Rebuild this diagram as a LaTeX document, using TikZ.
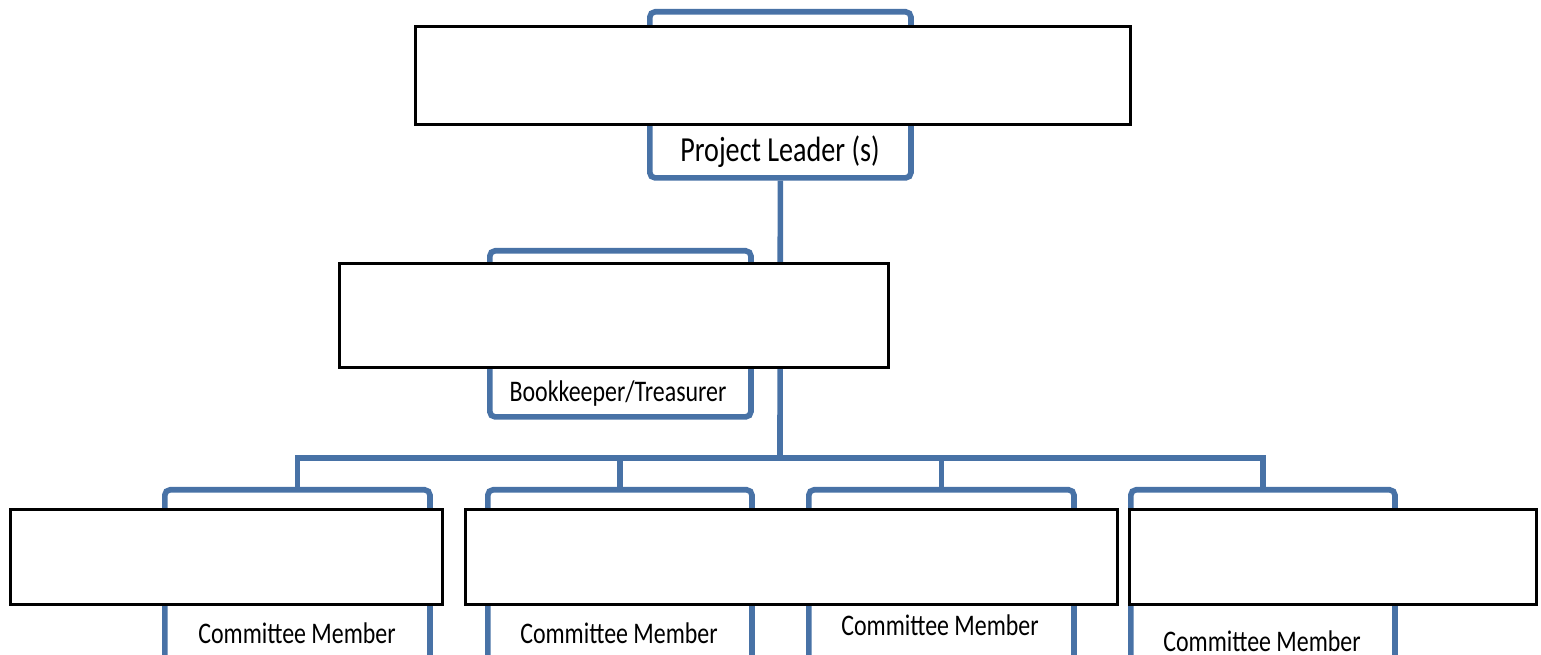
\documentclass[tikz,border=0pt]{standalone}
\usepackage{fontspec}
\newfontfamily\orgfont[FakeStretch=0.8]{Carlito}
\definecolor{orgblue}{RGB}{72,114,166}
\usepackage{tikz}
\usetikzlibrary{positioning}
\tikzset{
  role/.style={draw=orgblue, line width=1.6pt, rounded corners=1.5pt, fill=white,
               inner sep=0pt, anchor=north west},
  card/.style={draw=black, line width=0.8pt, fill=white, inner sep=0pt, anchor=north west},
  rolename/.style={font=\orgfont\fontsize{8.5}{10}\selectfont, inner sep=1pt},
  link/.style={draw=orgblue, line width=1.6pt},
}

\begin{document}
\begin{tikzpicture}[x=0.01cm, y=-0.01cm]
        \useasboundingbox (0,0) rectangle (1541,655);
        \clip (0,0) rectangle (1541,655);
        % blue role boxes
        \node[role, minimum width=2.61cm, minimum height=1.66cm] (pl) at (647,9)   {};
        \node[role, minimum width=2.61cm, minimum height=1.66cm] (bk) at (487,248) {};
        \node[role, minimum width=2.65cm, minimum height=2.0cm]  (c1) at (162,487) {};
        \node[role, minimum width=2.64cm, minimum height=2.0cm]  (c2) at (485,487) {};
        \node[role, minimum width=2.65cm, minimum height=2.0cm]  (c3) at (806,487) {};
        \node[role, minimum width=2.64cm, minimum height=2.0cm]  (c4) at (1128,487) {};
        \node[rolename] (tpl) at (780,152) {\fontsize{10}{12}\selectfont Project Leader (s)};
        \node[rolename] (tbk) at (618,394) {Bookkeeper/Treasurer};
        \node[rolename] (tc1) at (297,633) {Committee Member};
        \node[rolename] (tc2) at (619,633) {Committee Member};
        \node[rolename] (tc3) at (940,625) {Committee Member};
        \node[rolename] (tc4) at (1262,641) {Committee Member};
        % connectors
        \coordinate (hub) at (780,458);
        \draw[link] (pl.south) -- (hub);
        \draw[link] (c1.north) |- (hub) -| (c4.north);
        \draw[link] (c2.north) -- (c2.north |- hub);
        \draw[link] (c3.north) -- (c3.north |- hub);
        % white cards on top
        \node[card, minimum width=7.15cm, minimum height=0.98cm] (w0) at (414,25)  {};
        \node[card, minimum width=5.49cm, minimum height=1.04cm] (w1) at (338,262) {};
        \node[card, minimum width=4.32cm, minimum height=0.95cm] (w2) at (9,508)   {};
        \node[card, minimum width=6.52cm, minimum height=0.95cm] (w3) at (464,508) {};
        \node[card, minimum width=4.07cm, minimum height=0.95cm] (w4) at (1128,508) {};
      \end{tikzpicture}
\end{document}
